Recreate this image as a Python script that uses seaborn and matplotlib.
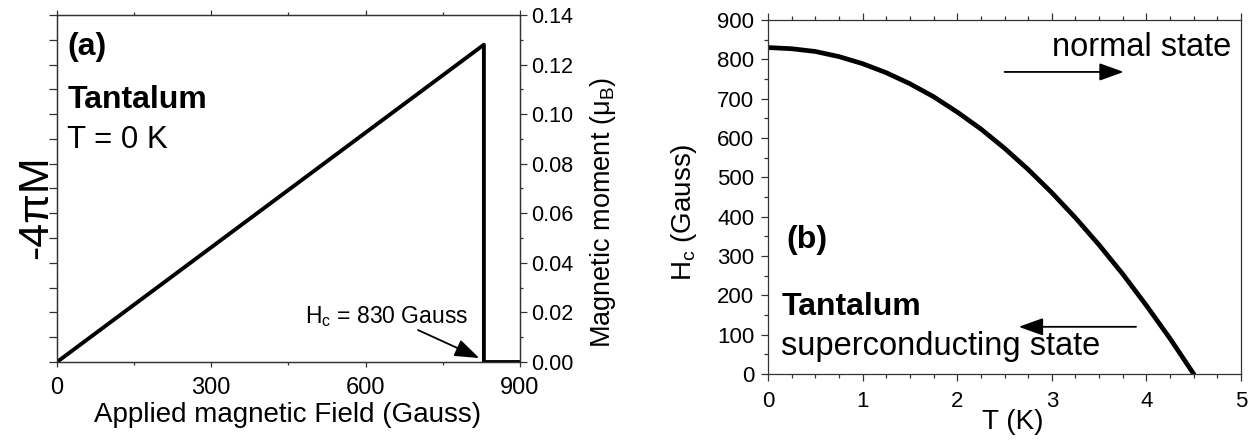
import matplotlib
matplotlib.use("Agg")
import matplotlib.pyplot as plt
from matplotlib.ticker import MultipleLocator, FixedLocator
import pandas as pd
import seaborn as sns

# ---- panel (a): magnetisation of tantalum at T = 0 K ----
hc_field = 830
field_gauss = [0, hc_field, hc_field, 900]
moment_mub = [0.0, 0.128, 0.0, 0.0]
field_ticks = [0, 300, 600, 900]
moment_ticks = [0.00, 0.02, 0.04, 0.06, 0.08, 0.10, 0.12, 0.14]
moment_labels = ["0.00", "0.02", "0.04", "0.06", "0.08", "0.10", "0.12", "0.14"]

# ---- panel (b): critical field versus temperature ----
temperature_k = [0.0, 0.25, 0.5, 0.75, 1.0, 1.25, 1.5, 1.75, 2.0, 2.25,
                 2.5, 2.75, 3.0, 3.25, 3.5, 3.75, 4.0, 4.25, 4.5]
critical_field = [830, 827, 820, 807, 789, 766, 738, 705, 666, 623,
                  574, 520, 461, 397, 328, 254, 174, 90, 0]
temp_ticks = [0, 1, 2, 3, 4, 5]
hc_ticks = [0, 100, 200, 300, 400, 500, 600, 700, 800, 900]

sns.set_theme(style="ticks")
plt.rcParams["font.family"] = ["Liberation Sans", "DejaVu Sans"]
plt.rcParams["mathtext.fontset"] = "custom"
plt.rcParams["mathtext.rm"] = "Liberation Sans"
plt.rcParams["mathtext.it"] = "Liberation Sans:italic"
plt.rcParams["mathtext.bf"] = "Liberation Sans:bold"
plt.rcParams["text.color"] = "black"
plt.rcParams["axes.labelcolor"] = "black"
plt.rcParams["axes.edgecolor"] = "#333333"
plt.rcParams["axes.linewidth"] = 0.9
plt.rcParams["xtick.color"] = "#333333"
plt.rcParams["ytick.color"] = "#333333"
plt.rcParams["xtick.labelcolor"] = "black"
plt.rcParams["ytick.labelcolor"] = "black"

fig = plt.figure(figsize=(12.57, 4.41), dpi=100)
ax_a = fig.add_axes([0.0453, 0.1791, 0.3683, 0.787])
ax_b = fig.add_axes([0.611, 0.1519, 0.3763, 0.8027])

arrow_kw = dict(arrowstyle="-|>,head_length=0.75,head_width=0.27",
                color="black", lw=1.3, mutation_scale=20, shrinkA=0, shrinkB=0)

# ---------------- panel (a) ----------------
df_a = pd.DataFrame({"field": field_gauss, "moment": moment_mub})
sns.lineplot(data=df_a, x="field", y="moment", ax=ax_a, color="black",
             linewidth=2.8, estimator=None, sort=False)
ax_a.set_xlim(0, 900)
ax_a.set_ylim(0, 0.14)
ax_a.xaxis.set_major_locator(FixedLocator(field_ticks))
ax_a.xaxis.set_minor_locator(MultipleLocator(150))
ax_a.yaxis.set_major_locator(MultipleLocator(0.01))
ax_a.tick_params(axis="x", which="major", top=True, length=3.5, width=0.9,
                 labelsize=17, pad=7)
ax_a.tick_params(axis="x", which="minor", top=True, length=2.5, width=0.9)
ax_a.tick_params(axis="y", which="major", left=True, right=False,
                 labelleft=False, length=5.5, width=0.9)
ax_a.set_xlabel("Applied magnetic Field (Gauss)", fontsize=20)
ax_a.xaxis.set_label_coords(0.499, -0.153)
ax_a.xaxis.label.set_va("center")
ax_a.set_ylabel("-4\u03c0M", fontsize=31)
ax_a.yaxis.set_label_coords(-0.045, 0.447)
ax_a.yaxis.label.set_va("center")

ax_a2 = ax_a.twinx()
ax_a2.set_ylim(0, 0.14)
ax_a2.yaxis.set_major_locator(FixedLocator(moment_ticks))
ax_a2.set_yticklabels(moment_labels)
ax_a2.yaxis.set_minor_locator(MultipleLocator(0.01))
ax_a2.tick_params(axis="y", which="major", length=5, width=0.9,
                  labelsize=15.5, pad=3)
ax_a2.tick_params(axis="y", which="minor", length=2.5, width=0.9)
ax_a2.set_ylabel(r"Magnetic moment ($\mathregular{\mu_B}$)", fontsize=19.5)
ax_a2.yaxis.set_label_coords(1.18, 0.432)
ax_a2.yaxis.label.set_va("center")
ax_a2.yaxis.label.set_rotation(90)

ax_a.text(20, 0.127, "(a)", fontsize=23, fontweight="bold", va="center", ha="left")
ax_a.text(20, 0.1057, "Tantalum", fontsize=23, fontweight="bold", va="center", ha="left")
ax_a.text(20, 0.0896, "T = 0 K", fontsize=22.5, va="center", ha="left")
ax_a.text(482, 0.0182, f"H$_\\mathregular{{c}}$ = {hc_field} Gauss", fontsize=16.5,
          va="center", ha="left")
ax_a.annotate("", xy=(821, 0.0016), xytext=(702, 0.0129), arrowprops=arrow_kw)

# ---------------- panel (b) ----------------
df_b = pd.DataFrame({"T": temperature_k, "Hc": critical_field})
sns.lineplot(data=df_b, x="T", y="Hc", ax=ax_b, color="black", linewidth=3.4)
ax_b.set_xlim(0, 5)
ax_b.set_ylim(0, 900)
ax_b.xaxis.set_major_locator(FixedLocator(temp_ticks))
ax_b.xaxis.set_minor_locator(MultipleLocator(0.25))
ax_b.yaxis.set_major_locator(FixedLocator(hc_ticks))
ax_b.yaxis.set_minor_locator(MultipleLocator(50))
ax_b.tick_params(axis="both", which="major", length=5, width=0.9,
                 labelsize=16)
ax_b.tick_params(axis="x", which="both", top=True)
ax_b.tick_params(axis="x", which="major", pad=7)
ax_b.tick_params(axis="y", which="major", pad=5)
ax_b.tick_params(axis="both", which="minor", length=3.2, width=0.9)
ax_b.set_xlabel("T (K)", fontsize=20)
ax_b.xaxis.set_label_coords(0.518, -0.136)
ax_b.xaxis.label.set_va("center")
ax_b.set_ylabel(r"H$_\mathregular{c}$ (Gauss)", fontsize=20)
ax_b.yaxis.set_label_coords(-0.178, 0.458)
ax_b.yaxis.label.set_va("center")

ax_b.text(4.9, 831, "normal state", fontsize=23.5, va="center", ha="right")
ax_b.annotate("", xy=(3.76, 768), xytext=(2.50, 768), arrowprops=arrow_kw)
ax_b.text(0.19, 341, "(b)", fontsize=23, fontweight="bold", va="center", ha="left")
ax_b.text(0.14, 170, "Tantalum", fontsize=23, fontweight="bold", va="center", ha="left")
ax_b.text(0.14, 71, "superconducting state", fontsize=23.5, va="center", ha="left")
ax_b.annotate("", xy=(2.65, 120), xytext=(3.89, 120), arrowprops=arrow_kw)

fig.savefig("out.png", dpi=100)
